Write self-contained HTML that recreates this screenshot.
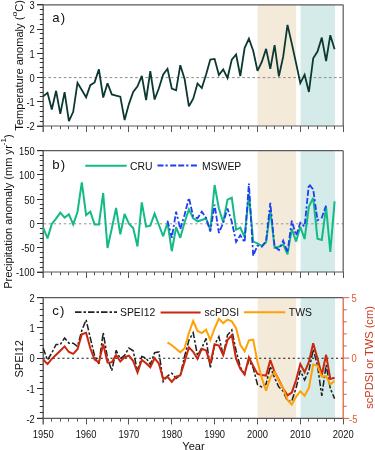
<!DOCTYPE html>
<html><head><meta charset="utf-8"><style>
html,body{margin:0;padding:0;background:#fff;width:375px;height:450px;overflow:hidden}
svg{display:block;will-change:transform}
text{font-family:"Liberation Sans",sans-serif;fill:#111}
.tk{font-size:10.4px}
.lg{font-size:10.4px}
.ttl{font-size:11.1px}
.pl{font-size:13.2px;letter-spacing:1.2px}
</style></head><body>
<svg width="375" height="450" viewBox="0 0 375 450">
<rect x="257.6" y="4.8" width="38.5" height="121.2" fill="#f4eada"/><rect x="300.6" y="4.8" width="34.39999999999998" height="121.2" fill="#d4ebe9"/>
<rect x="257.6" y="150.7" width="38.5" height="121.30000000000001" fill="#f4eada"/><rect x="300.6" y="150.7" width="34.39999999999998" height="121.30000000000001" fill="#d4ebe9"/>
<rect x="257.6" y="297.7" width="38.5" height="120.69999999999999" fill="#f4eada"/><rect x="300.6" y="297.7" width="34.39999999999998" height="120.69999999999999" fill="#d4ebe9"/>
<line x1="43.3" y1="77.6" x2="343.2" y2="77.6" stroke="#8c8c8c" stroke-width="1" stroke-dasharray="2.7 2.4"/>
<line x1="43.6" y1="223.8" x2="343.2" y2="223.8" stroke="#9a9096" stroke-width="1" stroke-dasharray="2.4 2.65"/>
<line x1="43.2" y1="358.2" x2="343.2" y2="358.2" stroke="#151515" stroke-width="1.1" stroke-dasharray="2.1 2.7"/>
<line x1="37" y1="4.8" x2="343.2" y2="4.8" stroke="#5a5a5a" stroke-width="1.2"/>
<line x1="43.2" y1="4.8" x2="43.2" y2="132" stroke="#5a5a5a" stroke-width="1.4"/>
<line x1="37" y1="126" x2="343.2" y2="126" stroke="#5a5a5a" stroke-width="1.2"/>
<line x1="37" y1="4.5" x2="43.2" y2="4.5" stroke="#333" stroke-width="1"/>
<line x1="37" y1="29.5" x2="43.2" y2="29.5" stroke="#333" stroke-width="1"/>
<line x1="37" y1="53.5" x2="43.2" y2="53.5" stroke="#333" stroke-width="1"/>
<line x1="37" y1="77.5" x2="43.2" y2="77.5" stroke="#333" stroke-width="1"/>
<line x1="37" y1="101.5" x2="43.2" y2="101.5" stroke="#333" stroke-width="1"/>
<line x1="37" y1="126.5" x2="43.2" y2="126.5" stroke="#333" stroke-width="1"/>
<line x1="39.8" y1="9.5" x2="43.2" y2="9.5" stroke="#333" stroke-width="1"/>
<line x1="39.8" y1="14.5" x2="43.2" y2="14.5" stroke="#333" stroke-width="1"/>
<line x1="39.8" y1="19.5" x2="43.2" y2="19.5" stroke="#333" stroke-width="1"/>
<line x1="39.8" y1="24.5" x2="43.2" y2="24.5" stroke="#333" stroke-width="1"/>
<line x1="39.8" y1="33.5" x2="43.2" y2="33.5" stroke="#333" stroke-width="1"/>
<line x1="39.8" y1="38.5" x2="43.2" y2="38.5" stroke="#333" stroke-width="1"/>
<line x1="39.8" y1="43.5" x2="43.2" y2="43.5" stroke="#333" stroke-width="1"/>
<line x1="39.8" y1="48.5" x2="43.2" y2="48.5" stroke="#333" stroke-width="1"/>
<line x1="39.8" y1="58.5" x2="43.2" y2="58.5" stroke="#333" stroke-width="1"/>
<line x1="39.8" y1="62.5" x2="43.2" y2="62.5" stroke="#333" stroke-width="1"/>
<line x1="39.8" y1="67.5" x2="43.2" y2="67.5" stroke="#333" stroke-width="1"/>
<line x1="39.8" y1="72.5" x2="43.2" y2="72.5" stroke="#333" stroke-width="1"/>
<line x1="39.8" y1="82.5" x2="43.2" y2="82.5" stroke="#333" stroke-width="1"/>
<line x1="39.8" y1="87.5" x2="43.2" y2="87.5" stroke="#333" stroke-width="1"/>
<line x1="39.8" y1="92.5" x2="43.2" y2="92.5" stroke="#333" stroke-width="1"/>
<line x1="39.8" y1="96.5" x2="43.2" y2="96.5" stroke="#333" stroke-width="1"/>
<line x1="39.8" y1="106.5" x2="43.2" y2="106.5" stroke="#333" stroke-width="1"/>
<line x1="39.8" y1="111.5" x2="43.2" y2="111.5" stroke="#333" stroke-width="1"/>
<line x1="39.8" y1="116.5" x2="43.2" y2="116.5" stroke="#333" stroke-width="1"/>
<line x1="39.8" y1="121.5" x2="43.2" y2="121.5" stroke="#333" stroke-width="1"/>
<line x1="51.5" y1="126" x2="51.5" y2="129.2" stroke="#555" stroke-width="1"/>
<line x1="60.5" y1="126" x2="60.5" y2="129.2" stroke="#555" stroke-width="1"/>
<line x1="68.5" y1="126" x2="68.5" y2="129.2" stroke="#555" stroke-width="1"/>
<line x1="77.5" y1="126" x2="77.5" y2="129.2" stroke="#555" stroke-width="1"/>
<line x1="86.5" y1="126" x2="86.5" y2="132" stroke="#555" stroke-width="1"/>
<line x1="94.5" y1="126" x2="94.5" y2="129.2" stroke="#555" stroke-width="1"/>
<line x1="103.5" y1="126" x2="103.5" y2="129.2" stroke="#555" stroke-width="1"/>
<line x1="111.5" y1="126" x2="111.5" y2="129.2" stroke="#555" stroke-width="1"/>
<line x1="120.5" y1="126" x2="120.5" y2="129.2" stroke="#555" stroke-width="1"/>
<line x1="128.5" y1="126" x2="128.5" y2="132" stroke="#555" stroke-width="1"/>
<line x1="137.5" y1="126" x2="137.5" y2="129.2" stroke="#555" stroke-width="1"/>
<line x1="146.5" y1="126" x2="146.5" y2="129.2" stroke="#555" stroke-width="1"/>
<line x1="154.5" y1="126" x2="154.5" y2="129.2" stroke="#555" stroke-width="1"/>
<line x1="163.5" y1="126" x2="163.5" y2="129.2" stroke="#555" stroke-width="1"/>
<line x1="171.5" y1="126" x2="171.5" y2="132" stroke="#555" stroke-width="1"/>
<line x1="180.5" y1="126" x2="180.5" y2="129.2" stroke="#555" stroke-width="1"/>
<line x1="188.5" y1="126" x2="188.5" y2="129.2" stroke="#555" stroke-width="1"/>
<line x1="197.5" y1="126" x2="197.5" y2="129.2" stroke="#555" stroke-width="1"/>
<line x1="206.5" y1="126" x2="206.5" y2="129.2" stroke="#555" stroke-width="1"/>
<line x1="214.5" y1="126" x2="214.5" y2="132" stroke="#555" stroke-width="1"/>
<line x1="223.5" y1="126" x2="223.5" y2="129.2" stroke="#555" stroke-width="1"/>
<line x1="231.5" y1="126" x2="231.5" y2="129.2" stroke="#555" stroke-width="1"/>
<line x1="240.5" y1="126" x2="240.5" y2="129.2" stroke="#555" stroke-width="1"/>
<line x1="248.5" y1="126" x2="248.5" y2="129.2" stroke="#555" stroke-width="1"/>
<line x1="257.5" y1="126" x2="257.5" y2="132" stroke="#555" stroke-width="1"/>
<line x1="266.5" y1="126" x2="266.5" y2="129.2" stroke="#555" stroke-width="1"/>
<line x1="274.5" y1="126" x2="274.5" y2="129.2" stroke="#555" stroke-width="1"/>
<line x1="283.5" y1="126" x2="283.5" y2="129.2" stroke="#555" stroke-width="1"/>
<line x1="291.5" y1="126" x2="291.5" y2="129.2" stroke="#555" stroke-width="1"/>
<line x1="300.5" y1="126" x2="300.5" y2="132" stroke="#555" stroke-width="1"/>
<line x1="308.5" y1="126" x2="308.5" y2="129.2" stroke="#555" stroke-width="1"/>
<line x1="317.5" y1="126" x2="317.5" y2="129.2" stroke="#555" stroke-width="1"/>
<line x1="326.5" y1="126" x2="326.5" y2="129.2" stroke="#555" stroke-width="1"/>
<line x1="334.5" y1="126" x2="334.5" y2="129.2" stroke="#555" stroke-width="1"/>
<line x1="343.5" y1="126" x2="343.5" y2="132" stroke="#555" stroke-width="1"/>
<line x1="37" y1="150.7" x2="343.2" y2="150.7" stroke="#5a5a5a" stroke-width="1.2"/>
<line x1="43.2" y1="150.7" x2="43.2" y2="278" stroke="#5a5a5a" stroke-width="1.4"/>
<line x1="37" y1="272" x2="343.2" y2="272" stroke="#5a5a5a" stroke-width="1.2"/>
<line x1="37" y1="150.5" x2="43.2" y2="150.5" stroke="#333" stroke-width="1"/>
<line x1="37" y1="174.5" x2="43.2" y2="174.5" stroke="#333" stroke-width="1"/>
<line x1="37" y1="199.5" x2="43.2" y2="199.5" stroke="#333" stroke-width="1"/>
<line x1="37" y1="223.5" x2="43.2" y2="223.5" stroke="#333" stroke-width="1"/>
<line x1="37" y1="247.5" x2="43.2" y2="247.5" stroke="#333" stroke-width="1"/>
<line x1="37" y1="272.5" x2="43.2" y2="272.5" stroke="#333" stroke-width="1"/>
<line x1="39.8" y1="155.5" x2="43.2" y2="155.5" stroke="#333" stroke-width="1"/>
<line x1="39.8" y1="160.5" x2="43.2" y2="160.5" stroke="#333" stroke-width="1"/>
<line x1="39.8" y1="165.5" x2="43.2" y2="165.5" stroke="#333" stroke-width="1"/>
<line x1="39.8" y1="170.5" x2="43.2" y2="170.5" stroke="#333" stroke-width="1"/>
<line x1="39.8" y1="179.5" x2="43.2" y2="179.5" stroke="#333" stroke-width="1"/>
<line x1="39.8" y1="184.5" x2="43.2" y2="184.5" stroke="#333" stroke-width="1"/>
<line x1="39.8" y1="189.5" x2="43.2" y2="189.5" stroke="#333" stroke-width="1"/>
<line x1="39.8" y1="194.5" x2="43.2" y2="194.5" stroke="#333" stroke-width="1"/>
<line x1="39.8" y1="204.5" x2="43.2" y2="204.5" stroke="#333" stroke-width="1"/>
<line x1="39.8" y1="208.5" x2="43.2" y2="208.5" stroke="#333" stroke-width="1"/>
<line x1="39.8" y1="213.5" x2="43.2" y2="213.5" stroke="#333" stroke-width="1"/>
<line x1="39.8" y1="218.5" x2="43.2" y2="218.5" stroke="#333" stroke-width="1"/>
<line x1="39.8" y1="228.5" x2="43.2" y2="228.5" stroke="#333" stroke-width="1"/>
<line x1="39.8" y1="233.5" x2="43.2" y2="233.5" stroke="#333" stroke-width="1"/>
<line x1="39.8" y1="238.5" x2="43.2" y2="238.5" stroke="#333" stroke-width="1"/>
<line x1="39.8" y1="242.5" x2="43.2" y2="242.5" stroke="#333" stroke-width="1"/>
<line x1="39.8" y1="252.5" x2="43.2" y2="252.5" stroke="#333" stroke-width="1"/>
<line x1="39.8" y1="257.5" x2="43.2" y2="257.5" stroke="#333" stroke-width="1"/>
<line x1="39.8" y1="262.5" x2="43.2" y2="262.5" stroke="#333" stroke-width="1"/>
<line x1="39.8" y1="267.5" x2="43.2" y2="267.5" stroke="#333" stroke-width="1"/>
<line x1="51.5" y1="272" x2="51.5" y2="275.2" stroke="#555" stroke-width="1"/>
<line x1="60.5" y1="272" x2="60.5" y2="275.2" stroke="#555" stroke-width="1"/>
<line x1="68.5" y1="272" x2="68.5" y2="275.2" stroke="#555" stroke-width="1"/>
<line x1="77.5" y1="272" x2="77.5" y2="275.2" stroke="#555" stroke-width="1"/>
<line x1="86.5" y1="272" x2="86.5" y2="278" stroke="#555" stroke-width="1"/>
<line x1="94.5" y1="272" x2="94.5" y2="275.2" stroke="#555" stroke-width="1"/>
<line x1="103.5" y1="272" x2="103.5" y2="275.2" stroke="#555" stroke-width="1"/>
<line x1="111.5" y1="272" x2="111.5" y2="275.2" stroke="#555" stroke-width="1"/>
<line x1="120.5" y1="272" x2="120.5" y2="275.2" stroke="#555" stroke-width="1"/>
<line x1="128.5" y1="272" x2="128.5" y2="278" stroke="#555" stroke-width="1"/>
<line x1="137.5" y1="272" x2="137.5" y2="275.2" stroke="#555" stroke-width="1"/>
<line x1="146.5" y1="272" x2="146.5" y2="275.2" stroke="#555" stroke-width="1"/>
<line x1="154.5" y1="272" x2="154.5" y2="275.2" stroke="#555" stroke-width="1"/>
<line x1="163.5" y1="272" x2="163.5" y2="275.2" stroke="#555" stroke-width="1"/>
<line x1="171.5" y1="272" x2="171.5" y2="278" stroke="#555" stroke-width="1"/>
<line x1="180.5" y1="272" x2="180.5" y2="275.2" stroke="#555" stroke-width="1"/>
<line x1="188.5" y1="272" x2="188.5" y2="275.2" stroke="#555" stroke-width="1"/>
<line x1="197.5" y1="272" x2="197.5" y2="275.2" stroke="#555" stroke-width="1"/>
<line x1="206.5" y1="272" x2="206.5" y2="275.2" stroke="#555" stroke-width="1"/>
<line x1="214.5" y1="272" x2="214.5" y2="278" stroke="#555" stroke-width="1"/>
<line x1="223.5" y1="272" x2="223.5" y2="275.2" stroke="#555" stroke-width="1"/>
<line x1="231.5" y1="272" x2="231.5" y2="275.2" stroke="#555" stroke-width="1"/>
<line x1="240.5" y1="272" x2="240.5" y2="275.2" stroke="#555" stroke-width="1"/>
<line x1="248.5" y1="272" x2="248.5" y2="275.2" stroke="#555" stroke-width="1"/>
<line x1="257.5" y1="272" x2="257.5" y2="278" stroke="#555" stroke-width="1"/>
<line x1="266.5" y1="272" x2="266.5" y2="275.2" stroke="#555" stroke-width="1"/>
<line x1="274.5" y1="272" x2="274.5" y2="275.2" stroke="#555" stroke-width="1"/>
<line x1="283.5" y1="272" x2="283.5" y2="275.2" stroke="#555" stroke-width="1"/>
<line x1="291.5" y1="272" x2="291.5" y2="275.2" stroke="#555" stroke-width="1"/>
<line x1="300.5" y1="272" x2="300.5" y2="278" stroke="#555" stroke-width="1"/>
<line x1="308.5" y1="272" x2="308.5" y2="275.2" stroke="#555" stroke-width="1"/>
<line x1="317.5" y1="272" x2="317.5" y2="275.2" stroke="#555" stroke-width="1"/>
<line x1="326.5" y1="272" x2="326.5" y2="275.2" stroke="#555" stroke-width="1"/>
<line x1="334.5" y1="272" x2="334.5" y2="275.2" stroke="#555" stroke-width="1"/>
<line x1="343.5" y1="272" x2="343.5" y2="278" stroke="#555" stroke-width="1"/>
<line x1="37" y1="297.7" x2="343.2" y2="297.7" stroke="#5a5a5a" stroke-width="1.2"/>
<line x1="43.2" y1="297.7" x2="43.2" y2="424.4" stroke="#5a5a5a" stroke-width="1.4"/>
<line x1="37" y1="418.4" x2="343.2" y2="418.4" stroke="#5a5a5a" stroke-width="1.2"/>
<line x1="37" y1="297.5" x2="43.2" y2="297.5" stroke="#333" stroke-width="1"/>
<line x1="37" y1="327.5" x2="43.2" y2="327.5" stroke="#333" stroke-width="1"/>
<line x1="37" y1="358.5" x2="43.2" y2="358.5" stroke="#333" stroke-width="1"/>
<line x1="37" y1="388.5" x2="43.2" y2="388.5" stroke="#333" stroke-width="1"/>
<line x1="37" y1="418.5" x2="43.2" y2="418.5" stroke="#333" stroke-width="1"/>
<line x1="39.8" y1="303.5" x2="43.2" y2="303.5" stroke="#333" stroke-width="1"/>
<line x1="39.8" y1="309.5" x2="43.2" y2="309.5" stroke="#333" stroke-width="1"/>
<line x1="39.8" y1="315.5" x2="43.2" y2="315.5" stroke="#333" stroke-width="1"/>
<line x1="39.8" y1="321.5" x2="43.2" y2="321.5" stroke="#333" stroke-width="1"/>
<line x1="39.8" y1="333.5" x2="43.2" y2="333.5" stroke="#333" stroke-width="1"/>
<line x1="39.8" y1="339.5" x2="43.2" y2="339.5" stroke="#333" stroke-width="1"/>
<line x1="39.8" y1="345.5" x2="43.2" y2="345.5" stroke="#333" stroke-width="1"/>
<line x1="39.8" y1="352.5" x2="43.2" y2="352.5" stroke="#333" stroke-width="1"/>
<line x1="39.8" y1="364.5" x2="43.2" y2="364.5" stroke="#333" stroke-width="1"/>
<line x1="39.8" y1="370.5" x2="43.2" y2="370.5" stroke="#333" stroke-width="1"/>
<line x1="39.8" y1="376.5" x2="43.2" y2="376.5" stroke="#333" stroke-width="1"/>
<line x1="39.8" y1="382.5" x2="43.2" y2="382.5" stroke="#333" stroke-width="1"/>
<line x1="39.8" y1="394.5" x2="43.2" y2="394.5" stroke="#333" stroke-width="1"/>
<line x1="39.8" y1="400.5" x2="43.2" y2="400.5" stroke="#333" stroke-width="1"/>
<line x1="39.8" y1="406.5" x2="43.2" y2="406.5" stroke="#333" stroke-width="1"/>
<line x1="39.8" y1="412.5" x2="43.2" y2="412.5" stroke="#333" stroke-width="1"/>
<line x1="51.5" y1="418.4" x2="51.5" y2="421.59999999999997" stroke="#555" stroke-width="1"/>
<line x1="60.5" y1="418.4" x2="60.5" y2="421.59999999999997" stroke="#555" stroke-width="1"/>
<line x1="68.5" y1="418.4" x2="68.5" y2="421.59999999999997" stroke="#555" stroke-width="1"/>
<line x1="77.5" y1="418.4" x2="77.5" y2="421.59999999999997" stroke="#555" stroke-width="1"/>
<line x1="86.5" y1="418.4" x2="86.5" y2="424.4" stroke="#555" stroke-width="1"/>
<line x1="94.5" y1="418.4" x2="94.5" y2="421.59999999999997" stroke="#555" stroke-width="1"/>
<line x1="103.5" y1="418.4" x2="103.5" y2="421.59999999999997" stroke="#555" stroke-width="1"/>
<line x1="111.5" y1="418.4" x2="111.5" y2="421.59999999999997" stroke="#555" stroke-width="1"/>
<line x1="120.5" y1="418.4" x2="120.5" y2="421.59999999999997" stroke="#555" stroke-width="1"/>
<line x1="128.5" y1="418.4" x2="128.5" y2="424.4" stroke="#555" stroke-width="1"/>
<line x1="137.5" y1="418.4" x2="137.5" y2="421.59999999999997" stroke="#555" stroke-width="1"/>
<line x1="146.5" y1="418.4" x2="146.5" y2="421.59999999999997" stroke="#555" stroke-width="1"/>
<line x1="154.5" y1="418.4" x2="154.5" y2="421.59999999999997" stroke="#555" stroke-width="1"/>
<line x1="163.5" y1="418.4" x2="163.5" y2="421.59999999999997" stroke="#555" stroke-width="1"/>
<line x1="171.5" y1="418.4" x2="171.5" y2="424.4" stroke="#555" stroke-width="1"/>
<line x1="180.5" y1="418.4" x2="180.5" y2="421.59999999999997" stroke="#555" stroke-width="1"/>
<line x1="188.5" y1="418.4" x2="188.5" y2="421.59999999999997" stroke="#555" stroke-width="1"/>
<line x1="197.5" y1="418.4" x2="197.5" y2="421.59999999999997" stroke="#555" stroke-width="1"/>
<line x1="206.5" y1="418.4" x2="206.5" y2="421.59999999999997" stroke="#555" stroke-width="1"/>
<line x1="214.5" y1="418.4" x2="214.5" y2="424.4" stroke="#555" stroke-width="1"/>
<line x1="223.5" y1="418.4" x2="223.5" y2="421.59999999999997" stroke="#555" stroke-width="1"/>
<line x1="231.5" y1="418.4" x2="231.5" y2="421.59999999999997" stroke="#555" stroke-width="1"/>
<line x1="240.5" y1="418.4" x2="240.5" y2="421.59999999999997" stroke="#555" stroke-width="1"/>
<line x1="248.5" y1="418.4" x2="248.5" y2="421.59999999999997" stroke="#555" stroke-width="1"/>
<line x1="257.5" y1="418.4" x2="257.5" y2="424.4" stroke="#555" stroke-width="1"/>
<line x1="266.5" y1="418.4" x2="266.5" y2="421.59999999999997" stroke="#555" stroke-width="1"/>
<line x1="274.5" y1="418.4" x2="274.5" y2="421.59999999999997" stroke="#555" stroke-width="1"/>
<line x1="283.5" y1="418.4" x2="283.5" y2="421.59999999999997" stroke="#555" stroke-width="1"/>
<line x1="291.5" y1="418.4" x2="291.5" y2="421.59999999999997" stroke="#555" stroke-width="1"/>
<line x1="300.5" y1="418.4" x2="300.5" y2="424.4" stroke="#555" stroke-width="1"/>
<line x1="308.5" y1="418.4" x2="308.5" y2="421.59999999999997" stroke="#555" stroke-width="1"/>
<line x1="317.5" y1="418.4" x2="317.5" y2="421.59999999999997" stroke="#555" stroke-width="1"/>
<line x1="326.5" y1="418.4" x2="326.5" y2="421.59999999999997" stroke="#555" stroke-width="1"/>
<line x1="334.5" y1="418.4" x2="334.5" y2="421.59999999999997" stroke="#555" stroke-width="1"/>
<line x1="343.5" y1="418.4" x2="343.5" y2="424.4" stroke="#555" stroke-width="1"/>
<line x1="343.2" y1="4.8" x2="343.2" y2="126" stroke="#5a5a5a" stroke-width="1.2"/>
<line x1="343.2" y1="150.7" x2="343.2" y2="272" stroke="#5a5a5a" stroke-width="1.2"/>
<line x1="343.2" y1="297.7" x2="343.2" y2="418.4" stroke="#dd5a33" stroke-width="1.2"/>
<line x1="343.2" y1="297.7" x2="349.2" y2="297.7" stroke="#dd5a33" stroke-width="1"/>
<line x1="343.2" y1="309.8" x2="346.7" y2="309.8" stroke="#dd5a33" stroke-width="1"/>
<line x1="343.2" y1="321.8" x2="346.7" y2="321.8" stroke="#dd5a33" stroke-width="1"/>
<line x1="343.2" y1="333.9" x2="346.7" y2="333.9" stroke="#dd5a33" stroke-width="1"/>
<line x1="343.2" y1="346.0" x2="346.7" y2="346.0" stroke="#dd5a33" stroke-width="1"/>
<line x1="343.2" y1="358.1" x2="349.2" y2="358.1" stroke="#dd5a33" stroke-width="1"/>
<line x1="343.2" y1="370.1" x2="346.7" y2="370.1" stroke="#dd5a33" stroke-width="1"/>
<line x1="343.2" y1="382.2" x2="346.7" y2="382.2" stroke="#dd5a33" stroke-width="1"/>
<line x1="343.2" y1="394.3" x2="346.7" y2="394.3" stroke="#dd5a33" stroke-width="1"/>
<line x1="343.2" y1="406.3" x2="346.7" y2="406.3" stroke="#dd5a33" stroke-width="1"/>
<line x1="343.2" y1="418.4" x2="349.2" y2="418.4" stroke="#dd5a33" stroke-width="1"/>
<text transform="translate(34.7,9.10) scale(0.9,1)" text-anchor="end" class="tk">3</text>
<text transform="translate(34.7,33.34) scale(0.9,1)" text-anchor="end" class="tk">2</text>
<text transform="translate(34.7,57.58) scale(0.9,1)" text-anchor="end" class="tk">1</text>
<text transform="translate(34.7,81.82) scale(0.9,1)" text-anchor="end" class="tk">0</text>
<text transform="translate(34.7,106.06) scale(0.9,1)" text-anchor="end" class="tk">-1</text>
<text transform="translate(34.7,130.30) scale(0.9,1)" text-anchor="end" class="tk">-2</text>
<text transform="translate(34.7,155.00) scale(0.9,1)" text-anchor="end" class="tk">150</text>
<text transform="translate(34.7,179.26) scale(0.9,1)" text-anchor="end" class="tk">100</text>
<text transform="translate(34.7,203.52) scale(0.9,1)" text-anchor="end" class="tk">50</text>
<text transform="translate(34.7,227.78) scale(0.9,1)" text-anchor="end" class="tk">0</text>
<text transform="translate(34.7,252.04) scale(0.9,1)" text-anchor="end" class="tk">-50</text>
<text transform="translate(34.7,276.30) scale(0.9,1)" text-anchor="end" class="tk">-100</text>
<text transform="translate(34.7,302.00) scale(0.9,1)" text-anchor="end" class="tk">2</text>
<text transform="translate(34.7,332.18) scale(0.9,1)" text-anchor="end" class="tk">1</text>
<text transform="translate(34.7,362.35) scale(0.9,1)" text-anchor="end" class="tk">0</text>
<text transform="translate(34.7,392.52) scale(0.9,1)" text-anchor="end" class="tk">-1</text>
<text transform="translate(34.7,422.70) scale(0.9,1)" text-anchor="end" class="tk">-2</text>
<text transform="translate(351.6,302.00) scale(0.9,1)" class="tk" style="fill:#dd5a33">5</text>
<text transform="translate(351.6,362.35) scale(0.9,1)" class="tk" style="fill:#dd5a33">0</text>
<text transform="translate(349.1,422.70) scale(0.9,1)" class="tk" style="fill:#dd5a33">-5</text>
<text transform="translate(43.20,437.5) scale(0.9,1)" text-anchor="middle" class="tk">1950</text>
<text transform="translate(86.06,437.5) scale(0.9,1)" text-anchor="middle" class="tk">1960</text>
<text transform="translate(128.91,437.5) scale(0.9,1)" text-anchor="middle" class="tk">1970</text>
<text transform="translate(171.77,437.5) scale(0.9,1)" text-anchor="middle" class="tk">1980</text>
<text transform="translate(214.63,437.5) scale(0.9,1)" text-anchor="middle" class="tk">1990</text>
<text transform="translate(257.49,437.5) scale(0.9,1)" text-anchor="middle" class="tk">2000</text>
<text transform="translate(300.34,437.5) scale(0.9,1)" text-anchor="middle" class="tk">2010</text>
<text transform="translate(343.20,437.5) scale(0.9,1)" text-anchor="middle" class="tk">2020</text>
<text x="193.5" y="449.8" text-anchor="middle" class="ttl">Year</text>
<text x="52.3" y="22.3" class="pl">a)</text>
<text x="52.3" y="168.8" class="pl">b)</text>
<text x="52.3" y="315.2" class="pl">c)</text>
<text transform="translate(22.6,65.4) scale(0.94,1) rotate(-90)" text-anchor="middle" class="ttl">Temperature anomaly (<tspan style="font-size:8.6px" dy="-5.5">o</tspan><tspan dy="5.5">C)</tspan></text>
<text transform="translate(11.7,211.5) scale(0.94,1) rotate(-90)" text-anchor="middle" class="ttl">Precipitation anomaly (mm yr<tspan style="font-size:8.2px" dy="-5.8">-1</tspan><tspan dy="5.8">)</tspan></text>
<text transform="translate(23.2,358.8) scale(0.94,1) rotate(-90)" text-anchor="middle" class="ttl">SPEI12</text>
<text transform="translate(373.2,357.5) scale(0.94,1) rotate(-90)" text-anchor="middle" class="ttl" style="fill:#c93a1e">scPDSI or TWS (cm)</text>
<line x1="85.3" y1="165.7" x2="126.7" y2="165.7" stroke="#12bb86" stroke-width="2"/>
<text x="130" y="170.1" class="lg">CRU</text>
<line x1="157.5" y1="165.5" x2="197" y2="165.5" stroke="#1f3ff0" stroke-width="1.8" stroke-dasharray="6 2 2.2 2.5 6 2"/>
<text x="202" y="170.1" class="lg">MSWEP</text>
<line x1="75" y1="312.2" x2="117" y2="312.2" stroke="#222" stroke-width="1.8" stroke-dasharray="6.5 2 2.5 2"/>
<text x="120" y="316.3" class="lg">SPEI12</text>
<line x1="160.6" y1="312.5" x2="200.6" y2="312.5" stroke="#c9270e" stroke-width="2"/>
<text x="204.5" y="316.3" class="lg">scPDSI</text>
<line x1="244" y1="312.3" x2="285.2" y2="312.3" stroke="#ffa106" stroke-width="2"/>
<text x="288.8" y="316.3" class="lg">TWS</text>
<polyline points="43.2,96.4 47.5,92.8 51.8,109.5 56.1,90.8 60.3,113.8 64.6,92.1 68.9,121.2 73.2,111.8 77.5,82.8 81.8,90.0 86.1,97.3 90.3,85.2 94.6,82.4 98.9,69.3 103.2,97.5 107.5,83.2 111.8,94.4 116.1,95.7 120.3,96.7 124.6,120.0 128.9,104.1 133.2,92.0 137.5,86.4 141.8,75.8 146.1,100.0 150.3,71.2 154.6,99.5 158.9,88.3 163.2,74.5 167.5,68.8 171.8,88.5 176.1,90.3 180.3,65.2 184.6,79.0 188.9,106.4 193.2,98.7 197.5,83.5 201.8,88.1 206.1,74.5 210.3,59.6 214.6,58.9 218.9,75.0 223.2,69.4 227.5,78.0 231.8,59.6 236.1,54.5 240.3,76.0 244.6,48.0 248.9,38.7 253.2,50.8 257.5,70.8 261.8,62.0 266.1,48.9 270.3,68.9 274.6,45.2 278.9,76.3 283.2,56.7 287.5,24.9 291.8,43.6 296.1,63.3 300.3,83.1 304.6,74.7 308.9,92.0 313.2,58.3 317.5,51.5 321.8,37.6 326.1,61.0 330.3,35.2 334.6,49.2" fill="none" stroke="#0c3833" stroke-width="1.8" stroke-linejoin="miter" stroke-miterlimit="3"/>
<polyline points="43.2,227.5 47.5,238.4 51.8,224.0 56.1,218.6 60.3,212.6 64.6,217.6 68.9,214.4 73.2,224.4 77.5,212.0 81.8,182.4 86.1,215.0 90.3,211.6 94.6,224.4 98.9,224.4 103.2,193.0 107.5,248.0 111.8,228.5 116.1,208.0 120.3,234.4 124.6,214.0 128.9,223.6 133.2,228.0 137.5,246.4 141.8,202.4 146.1,226.6 150.3,225.6 154.6,213.6 158.9,225.0 163.2,236.3 167.5,222.7 171.8,251.2 176.1,227.2 180.3,237.8 184.6,222.3 188.9,209.4 193.2,218.3 197.5,221.3 201.8,220.0 206.1,218.5 210.3,230.0 214.6,185.0 218.9,208.5 223.2,222.3 227.5,199.6 231.8,197.8 236.1,229.8 240.3,227.7 244.6,237.0 248.9,194.2 253.2,241.6 257.5,243.3 261.8,246.0 266.1,242.2 270.3,210.0 274.6,247.8 278.9,246.7 283.2,244.4 287.5,254.4 291.8,228.9 296.1,241.6 300.3,226.8 304.6,239.0 308.9,206.5 313.2,198.0 317.5,238.8 321.8,240.0 326.1,207.0 330.3,251.8 334.6,201.4" fill="none" stroke="#12bb86" stroke-width="2" stroke-linejoin="miter" stroke-miterlimit="3"/>
<polyline points="167.5,220.6 171.8,237.8 176.1,211.7 180.3,229.0 184.6,214.7 188.9,197.8 193.2,216.5 197.5,218.3 201.8,211.7 206.1,218.0 210.3,231.5 214.6,204.6 218.9,233.0 223.2,222.7 227.5,208.5 231.8,221.8 236.1,241.9 240.3,235.2 244.6,242.4 248.9,183.5 253.2,255.6 257.5,245.6 261.8,246.7 266.1,241.1 270.3,202.9 274.6,246.7 278.9,250.0 283.2,240.7 287.5,252.2 291.8,220.7 296.1,235.5 300.3,222.8 304.6,226.5 308.9,184.0 313.2,189.5 317.5,220.2 321.8,217.6 326.1,205.6" fill="none" stroke="#1f3ff0" stroke-width="1.8" stroke-dasharray="6 2 2.2 2.5 6 2" stroke-linejoin="miter" stroke-miterlimit="3"/>
<polyline points="43.2,348.3 47.5,360.0 51.8,352.9 56.1,344.5 60.3,344.5 64.6,338.0 68.9,343.2 73.2,343.2 77.5,346.4 81.8,330.5 86.1,319.8 90.3,338.0 94.6,355.7 98.9,364.0 103.2,332.7 107.5,358.0 111.8,370.7 116.1,350.4 120.3,358.7 124.6,355.3 128.9,348.0 133.2,350.8 137.5,371.3 141.8,356.5 146.1,358.1 150.3,364.5 154.6,352.7 158.9,352.0 163.2,381.6 167.5,376.0 171.8,373.2 176.1,378.5 180.3,375.0 184.6,356.3 188.9,340.2 193.2,332.8 197.5,355.5 201.8,348.0 206.1,338.4 210.3,368.0 214.6,344.7 218.9,336.7 223.2,355.3 227.5,335.0 231.8,330.0 236.1,350.7 240.3,367.0 244.6,374.3 248.9,360.0 253.2,368.0 257.5,384.5 261.8,387.0 266.1,384.0 270.3,366.5 274.6,378.0 278.9,387.0 283.2,391.3 287.5,401.1 291.8,401.0 296.1,388.0 300.3,370.5 304.6,380.0 308.9,370.6 313.2,349.6 317.5,365.6 321.8,396.0 326.1,365.0 330.3,388.5 334.6,398.6" fill="none" stroke="#222" stroke-width="1.55" stroke-dasharray="6.5 2 2.5 2" stroke-linejoin="miter" stroke-miterlimit="3"/>
<polyline points="43.2,359.5 47.5,364.1 51.8,358.9 56.1,354.8 60.3,350.7 64.6,346.4 68.9,352.0 73.2,353.9 77.5,349.2 81.8,334.3 86.1,332.8 90.3,348.3 94.6,359.5 98.9,362.3 103.2,344.0 107.5,362.5 111.8,362.2 116.1,355.2 120.3,361.5 124.6,357.2 128.9,355.7 133.2,361.0 137.5,372.5 141.8,359.9 146.1,363.2 150.3,367.3 154.6,358.2 158.9,363.7 163.2,379.0 167.5,376.8 171.8,382.0 176.1,376.7 180.3,375.5 184.6,361.6 188.9,347.4 193.2,351.8 197.5,358.9 201.8,348.7 206.1,350.4 210.3,363.6 214.6,344.2 218.9,345.6 223.2,355.2 227.5,340.0 231.8,335.2 236.1,359.0 240.3,368.7 244.6,374.4 248.9,357.3 253.2,366.0 257.5,374.0 261.8,375.0 266.1,375.6 270.3,360.0 274.6,372.0 278.9,380.0 283.2,388.7 287.5,395.4 291.8,392.5 296.1,380.0 300.3,364.0 304.6,372.2 308.9,362.0 313.2,343.3 317.5,358.6 321.8,375.0 326.1,354.8 330.3,379.0 334.6,377.8" fill="none" stroke="#c9270e" stroke-width="2" stroke-linejoin="miter" stroke-miterlimit="3"/>
<polyline points="167.5,342.4 171.8,345.2 176.1,348.8 180.3,352.3 184.6,348.3 188.9,333.1 193.2,321.0 197.5,331.0 201.8,333.0 206.1,329.6 210.3,340.0 214.6,328.5 218.9,318.7 223.2,323.1 227.5,319.6 231.8,321.4 236.1,328.2 240.3,344.8 244.6,351.3 248.9,340.4 253.2,339.6 257.5,362.0 261.8,378.0 266.1,390.7 270.3,377.5 274.6,372.0 278.9,380.7 283.2,388.7 287.5,400.0 291.8,404.5 296.1,396.7 300.3,391.3 304.6,395.8 308.9,387.8 313.2,364.5 317.5,365.8 321.8,376.6 326.1,376.3 330.3,384.5 334.6,380.7" fill="none" stroke="#ffa106" stroke-width="2" stroke-linejoin="miter" stroke-miterlimit="3"/>
</svg>
</body></html>
